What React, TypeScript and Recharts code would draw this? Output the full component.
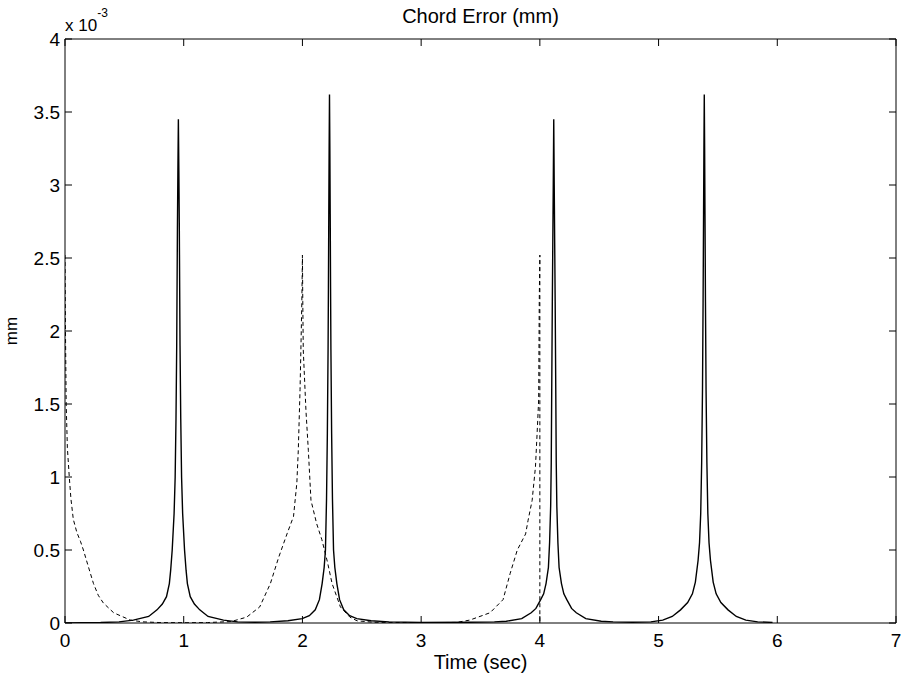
import React from 'react';
import { LineChart, Line, XAxis, YAxis, Label } from 'recharts';

// Time axis ticks (sec) and error ticks (x 10^-3 mm)
const timeTicks = [0, 1, 2, 3, 4, 5, 6, 7];
const errorTicks = [0, 0.5, 1, 1.5, 2, 2.5, 3, 3.5, 4];

// Solid series: time (sec)
const solidTime = [
  0, 0.3, 0.455, 0.575, 0.705, 0.775, 0.82, 0.855, 0.879, 0.89, 0.903, 0.919, 0.928, 0.935, 0.941, 0.947, 0.951,
  0.955, 0.959, 0.963, 0.969, 0.975, 0.982, 0.991, 1.007, 1.02, 1.031, 1.055, 1.09, 1.135, 1.205, 1.335, 1.455, 1.6,
  1.728, 1.878, 1.998, 2.058, 2.108, 2.143, 2.166, 2.183, 2.194, 2.203, 2.21, 2.216, 2.219, 2.222, 2.225,
  2.228, 2.231, 2.234, 2.237, 2.24, 2.246, 2.253, 2.262, 2.273, 2.29, 2.313, 2.348, 2.398, 2.458, 2.578, 2.728, 3.0, 3.4,
  3.617, 3.717, 3.847, 3.927, 3.967, 4.007, 4.032, 4.052, 4.072, 4.082, 4.091, 4.096, 4.1, 4.105, 4.109, 4.113,
  4.117, 4.121, 4.125, 4.129, 4.134, 4.138, 4.143, 4.152, 4.162, 4.182, 4.202, 4.227, 4.267, 4.307, 4.387, 4.517, 4.617, 4.78,
  4.935, 5.035, 5.115, 5.185, 5.245, 5.285, 5.31, 5.333, 5.345, 5.355, 5.363, 5.37, 5.375, 5.379, 5.382,
  5.385, 5.388, 5.391, 5.395, 5.4, 5.407, 5.415, 5.425, 5.437, 5.46, 5.485, 5.525, 5.585, 5.655, 5.735, 5.835, 5.96,
];
// Solid series: chord error (x 10^-3 mm)
const solidError = [
  0, 0.003, 0.008, 0.02, 0.045, 0.09, 0.13, 0.18, 0.27, 0.36, 0.5, 0.75, 1.0, 1.4, 1.9, 2.7, 3.1,
  3.45, 3.1, 2.7, 1.9, 1.4, 1.0, 0.75, 0.5, 0.36, 0.27, 0.18, 0.13, 0.09, 0.045, 0.02, 0.008, 0.005,
  0.008, 0.015, 0.03, 0.05, 0.09, 0.16, 0.27, 0.38, 0.5, 0.85, 1.3, 1.87, 2.3, 2.8, 3.25,
  3.62, 3.25, 2.8, 2.3, 1.87, 1.3, 0.85, 0.5, 0.38, 0.27, 0.16, 0.09, 0.05, 0.03, 0.015, 0.008, 0.004, 0.005,
  0.008, 0.012, 0.03, 0.07, 0.1, 0.16, 0.2, 0.27, 0.38, 0.55, 0.8, 1.1, 1.6, 2.2, 2.6, 3.0,
  3.45, 3.0, 2.6, 2.2, 1.6, 1.1, 0.8, 0.55, 0.38, 0.27, 0.2, 0.16, 0.1, 0.07, 0.03, 0.012, 0.008, 0.005,
  0.008, 0.02, 0.045, 0.09, 0.14, 0.2, 0.28, 0.43, 0.55, 0.75, 1.1, 1.6, 2.2, 2.8, 3.25,
  3.62, 3.25, 2.8, 2.2, 1.6, 1.1, 0.75, 0.55, 0.43, 0.28, 0.2, 0.14, 0.09, 0.045, 0.02, 0.008, 0.004,
];

// Dashed series: time (sec)
const dashedTime = [
  0, 0.004, 0.01, 0.02, 0.036, 0.05, 0.07, 0.1, 0.13, 0.155, 0.197, 0.24, 0.28, 0.323, 0.41, 0.55, 0.65, 0.8, 1.0, 1.2,
  1.4, 1.53, 1.64, 1.73, 1.8, 1.87, 1.925, 1.953, 1.965, 1.98, 1.987, 1.995, 2.0,
  2.003, 2.007, 2.03, 2.05, 2.072, 2.12, 2.164, 2.21, 2.25, 2.32, 2.4, 2.46, 2.6, 3.0, 3.3,
  3.41, 3.58, 3.69, 3.75, 3.81, 3.88, 3.9, 3.935, 3.963, 3.977, 3.99, 3.995, 4.0, 4.0,
];
// Dashed series: chord error (x 10^-3 mm)
const dashedError = [
  2.52, 2.0, 1.5, 1.2, 1.0, 0.85, 0.71, 0.62, 0.56, 0.5, 0.385, 0.27, 0.19, 0.137, 0.07, 0.02, 0.008, 0.003, 0.002, 0.003,
  0.01, 0.04, 0.11, 0.27, 0.45, 0.61, 0.73, 0.96, 1.18, 1.6, 1.87, 2.2, 2.52,
  2.2, 1.87, 1.45, 1.18, 0.84, 0.68, 0.57, 0.42, 0.27, 0.11, 0.04, 0.015, 0.005, 0.002, 0.004,
  0.02, 0.07, 0.16, 0.34, 0.5, 0.61, 0.7, 0.84, 1.07, 1.3, 1.53, 2.21, 2.52, 0,
];

const solidData = solidTime.map((t, i) => ({ t, v: solidError[i] }));
const dashedData = dashedTime.map((t, i) => ({ t, v: dashedError[i] }));

const FONT = '"Liberation Sans", Arial, Helvetica, sans-serif';
const TICK_LEN = 7;

const BottomTick = (props: any) => {
  const { x, y, payload } = props;
  return (
    <g>
      <line x1={x} y1={y} x2={x} y2={y - TICK_LEN} stroke="#000" strokeWidth={1} />
      <text x={x} y={y + 11} dy="0.71em" textAnchor="middle" fontSize={19} fontFamily={FONT} fill="#000">
        {payload.value}
      </text>
    </g>
  );
};

const TopTick = (props: any) => {
  const { x, y } = props;
  return <line x1={x} y1={y} x2={x} y2={y + TICK_LEN} stroke="#000" strokeWidth={1} />;
};

const LeftTick = (props: any) => {
  const { x, y, payload } = props;
  return (
    <g>
      <line x1={x} y1={y} x2={x + TICK_LEN} y2={y} stroke="#000" strokeWidth={1} />
      <text x={x - 5} y={y} dy="0.355em" textAnchor="end" fontSize={19} fontFamily={FONT} fill="#000">
        {payload.value}
      </text>
    </g>
  );
};

const RightTick = (props: any) => {
  const { x, y } = props;
  return <line x1={x} y1={y} x2={x - TICK_LEN} y2={y} stroke="#000" strokeWidth={1} />;
};

const TitleLabel = (props: any) => {
  const vb = props.viewBox || {};
  return (
    <text x={vb.x + vb.width / 2} y={vb.y + vb.height - 16} textAnchor="middle" fontSize={20} fontFamily={FONT} fill="#000">
      Chord Error (mm)
    </text>
  );
};

const XTitleLabel = (props: any) => {
  const vb = props.viewBox || {};
  return (
    <text x={vb.x + vb.width / 2} y={vb.y + 46} textAnchor="middle" fontSize={20} fontFamily={FONT} fill="#000">
      Time (sec)
    </text>
  );
};

const YTitleLabel = (props: any) => {
  const vb = props.viewBox || {};
  const cx = vb.x + 17;
  const cy = vb.y + vb.height / 2;
  return (
    <g>
      <text
        x={cx}
        y={cy}
        transform={`rotate(-90 ${cx} ${cy})`}
        textAnchor="middle"
        fontSize={17}
        fontFamily={FONT}
        fill="#000"
      >
        mm
      </text>
      <text x={vb.x + vb.width} y={vb.y - 8.5} fontSize={17} fontFamily={FONT} fill="#000">
        x 10
        <tspan dy={-14} fontSize={12}>
          -3
        </tspan>
      </text>
    </g>
  );
};

export default function App() {
  return (
    <div style={{ position: 'absolute', left: 0, top: 0, width: 902, height: 680, background: '#fff' }}>
      <LineChart width={902} height={680} margin={{ top: 38, right: 5, bottom: 0, left: 0 }}>
        <XAxis
          xAxisId={0}
          dataKey="t"
          type="number"
          domain={[0, 7]}
          ticks={timeTicks}
          interval={0}
          height={57}
          stroke="#000"
          tickLine={false}
          tickSize={0}
          tickMargin={0}
          tick={(p: any) => <BottomTick {...p} />}
          allowDataOverflow
        >
          <Label content={<XTitleLabel />} />
        </XAxis>
        <XAxis
          xAxisId="top"
          orientation="top"
          dataKey="t"
          type="number"
          domain={[0, 7]}
          ticks={timeTicks}
          interval={0}
          height={1}
          stroke="#000"
          tickLine={false}
          tickSize={0}
          tickMargin={0}
          tick={(p: any) => <TopTick {...p} />}
          allowDataOverflow
        >
          <Label content={<TitleLabel />} />
        </XAxis>
        <YAxis
          yAxisId={0}
          type="number"
          domain={[0, 4]}
          ticks={errorTicks}
          interval={0}
          width={65}
          stroke="#000"
          tickLine={false}
          tickSize={0}
          tickMargin={0}
          tick={(p: any) => <LeftTick {...p} />}
          allowDataOverflow
        >
          <Label content={<YTitleLabel />} />
        </YAxis>
        <YAxis
          yAxisId="right"
          orientation="right"
          type="number"
          domain={[0, 4]}
          ticks={errorTicks}
          interval={0}
          width={1}
          stroke="#000"
          tickLine={false}
          tickSize={0}
          tickMargin={0}
          tick={(p: any) => <RightTick {...p} />}
          allowDataOverflow
        />
        <Line
          data={dashedData}
          dataKey="v"
          type="linear"
          stroke="#000"
          strokeWidth={1}
          strokeDasharray="4 3"
          dot={false}
          activeDot={false}
          isAnimationActive={false}
        />
        <Line
          data={solidData}
          dataKey="v"
          type="linear"
          stroke="#000"
          strokeWidth={1.4}
          dot={false}
          activeDot={false}
          isAnimationActive={false}
        />
      </LineChart>
    </div>
  );
}
